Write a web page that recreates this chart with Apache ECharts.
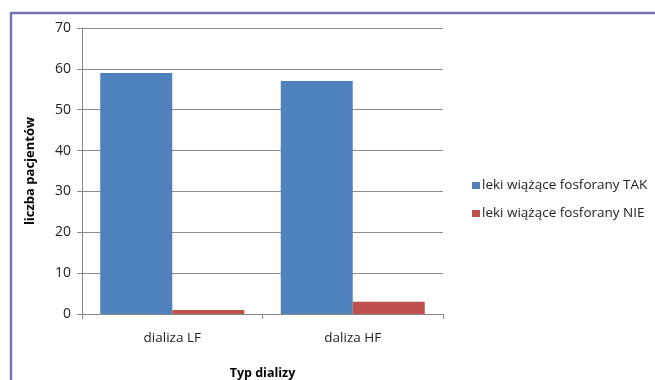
<!DOCTYPE html>
<html>
<head>
<meta charset="utf-8">
<script src="https://cdn.jsdelivr.net/npm/echarts@6/dist/echarts.min.js"></script>
<style>
  html, body { margin: 0; padding: 0; background: #fff; }
  #chart { width: 655px; height: 380px; }
</style>
</head>
<body>
<div id="chart"></div>
<script>
// Dialysis type categories and patient counts per group
const categories = ['dializa LF', 'daliza HF'];
const seriesNames = ['leki wiążące fosforany TAK', 'leki wiążące fosforany NIE'];
const takValues = [59, 57];
const nieValues = [1, 3];
const yTicks = [0, 10, 20, 30, 40, 50, 60, 70];

const font = '"Open Sans", "Liberation Sans", Arial, sans-serif';
const chart = echarts.init(document.getElementById('chart'));

chart.setOption({
  animation: false,
  graphic: [{
    type: 'rect',
    shape: { x: 11, y: 13, width: 700, height: 400 },
    style: { fill: 'none', stroke: '#7575ad', lineWidth: 2.5 },
    silent: true
  }],
  grid: { left: 82, right: 212, top: 28, bottom: 66, outerBoundsMode: 'none', containLabel: false },
  legend: {
    orient: 'vertical',
    left: 467,
    top: 172,
    itemWidth: 8,
    itemHeight: 7,
    itemGap: 11,
    icon: 'rect',
    textStyle: { fontFamily: font, fontSize: 13.5, color: '#222', padding: [0, 0, 0, -3], lineHeight: 17 },
    data: seriesNames
  },
  xAxis: {
    type: 'category',
    data: categories,
    name: 'Typ dializy',
    nameLocation: 'middle',
    nameGap: 53,
    nameTextStyle: { fontFamily: font, fontSize: 12.5, fontWeight: 'bold', color: '#000' },
    axisLine: { lineStyle: { color: '#888', width: 1 } },
    axisTick: { show: true, alignWithLabel: false, length: 5, lineStyle: { color: '#888' } },
    axisLabel: { fontFamily: font, fontSize: 13.5, color: '#222', margin: 17 }
  },
  yAxis: {
    type: 'value',
    min: 0,
    max: 70,
    interval: 10,
    name: 'liczba pacjentów',
    nameLocation: 'middle',
    nameGap: 45,
    nameTextStyle: { fontFamily: font, fontSize: 13, fontWeight: 'bold', color: '#000' },
    axisLine: { show: true, lineStyle: { color: '#888', width: 1 } },
    axisTick: { show: true, length: 5, lineStyle: { color: '#888' } },
    axisLabel: {
      fontFamily: font, fontSize: 14, color: '#222', margin: 11,
      formatter: v => (yTicks.includes(v) ? String(v) : '')
    },
    splitLine: { lineStyle: { color: '#8c8c8c', width: 1 } }
  },
  series: [
    {
      name: seriesNames[0],
      type: 'bar',
      data: takValues,
      barWidth: 72,
      barGap: '0%',
      itemStyle: { color: '#4f81bd' }
    },
    {
      name: seriesNames[1],
      type: 'bar',
      data: nieValues,
      barWidth: 72,
      itemStyle: { color: '#c0504d' }
    }
  ]
});
</script>
</body>
</html>
